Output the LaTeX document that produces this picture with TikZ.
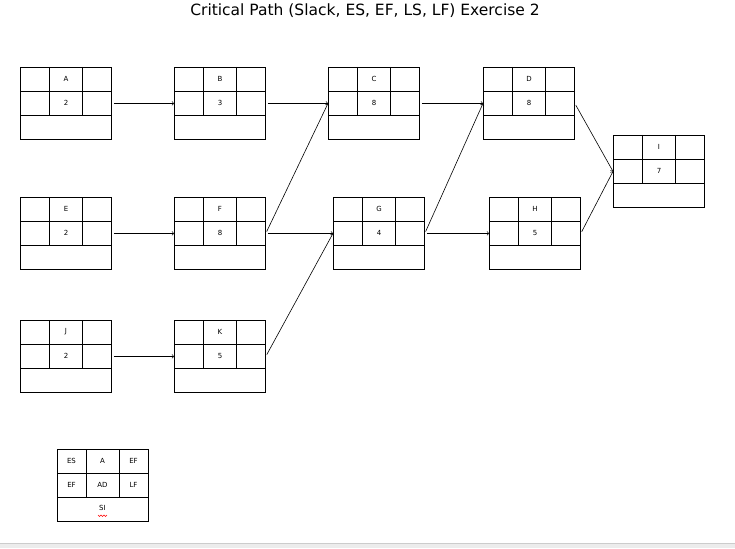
\documentclass[tikz,border=0pt]{standalone}
\usepackage{fontspec}
\setmainfont{DejaVu Sans}
\begin{document}
\begin{tikzpicture}[x=1pt,y=-1pt,
  box/.style={draw,line width=0.8pt,minimum width=91pt,minimum height=72pt,anchor=north west,inner sep=0pt},
  cell/.style={font=\fontsize{7}{8}\selectfont},
  arr/.style={->,>=to,line width=0.6pt,shorten <=2pt}]
\useasboundingbox (0,0) rectangle (735,548);
\fill[gray!15] (0,543) rectangle (735,548);
\draw[gray!40] (0,543) -- (735,543);
\node[font=\fontsize{15.5}{17}\selectfont] (title) at (365,11) {Critical Path (Slack, ES, EF, LS, LF) Exercise 2};
\newcommand{\actbox}[5]{%
  \node[box] (#1) at (#2,#3) {};
  \draw[line width=0.8pt] (#2,#3+24) -- +(91,0) (#2,#3+48) -- +(91,0)
     (#2+29.5,#3) -- +(0,48) (#2+62.5,#3) -- +(0,48);
  \node[cell] (#1-n) at (#2+46,#3+12) {#4};
  \node[cell] (#1-d) at (#2+46,#3+36) {#5};}
\actbox{A}{20}{67}{A}{2}
\actbox{B}{174}{67}{B}{3}
\actbox{C}{328}{67}{C}{8}
\actbox{D}{483}{67}{D}{8}
\actbox{E}{20}{197}{E}{2}
\actbox{F}{174}{197}{F}{8}
\actbox{G}{333}{197}{G}{4}
\actbox{H}{489}{197}{H}{5}
\actbox{J}{20}{320}{J}{2}
\actbox{K}{174}{320}{K}{5}
\actbox{I}{613}{135}{I}{7}
\draw[arr] (A.east) -- (B.west);
\draw[arr] (B.east) -- (C.west);
\draw[arr] (E.east) -- (F.west);
\draw[arr] (F.east) -- (C.west);
\draw[arr] (F.east) -- (G.west);
\draw[arr] (J.east) -- (K.west);
\draw[arr] (K.east) -- (G.west);
\draw[arr] (C.east) -- (D.west);
\draw[arr] (G.east) -- (D.west);
\draw[arr] (G.east) -- (H.west);
\draw[arr] (D.east) -- (I.west);
\draw[arr] (H.east) -- (I.west);
% legend
\node[box] (L) at (57,449) {};
\draw[line width=0.8pt] (57,473) -- +(91,0) (57,497) -- +(91,0)
  (86,449) -- +(0,48) (119,449) -- +(0,48);
\node[cell] (l1) at (71.5,461) {ES};
\node[cell] (l2) at (102.5,461) {A};
\node[cell] (l3) at (133.5,461) {EF};
\node[cell] (l4) at (71.5,485) {EF};
\node[cell] (l5) at (102.5,485) {AD};
\node[cell] (l6) at (133.5,485) {LF};
\node[cell] (l7) at (102.5,508) {SI};
\draw[red,line width=0.4pt] (98,515) -- (99.5,516.5) -- (101,515) -- (102.5,516.5) -- (104,515) -- (105.5,516.5) -- (107,515);
\end{tikzpicture}
\end{document}
